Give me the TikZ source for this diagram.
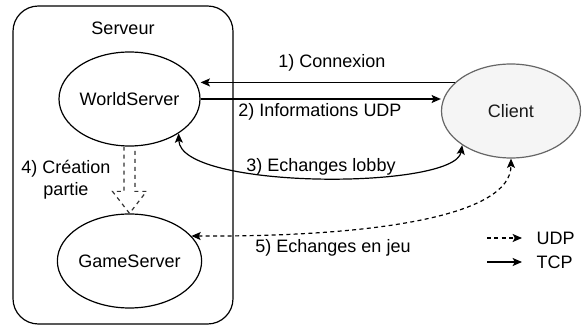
\documentclass[tikz,border=0pt]{standalone}
\usepackage{fontspec}
\setmainfont{Liberation Sans}
\definecolor{SRVfill}{HTML}{F5F5F5}
\definecolor{SRVedge}{HTML}{666666}
\definecolor{SRVtext}{HTML}{1A1A1A}
\usetikzlibrary{arrows.meta, calc, positioning, shapes.geometric}

\begin{document}
\begin{tikzpicture}[x=0.75pt, y=-0.75pt,
   every node/.style={font=\fontsize{13.5}{16.5}\selectfont},
   proc/.style={ellipse, draw, line width=0.9pt, minimum width=104.25pt,
      minimum height=70.5pt, inner sep=0pt},
   tcp/.style={-{Stealth[length=7pt, width=6pt, inset=1.5pt]}, line width=0.9pt},
   tcpboth/.style={{Stealth[length=7pt, width=6pt, inset=1.5pt]}-{Stealth[length=7pt, width=6pt, inset=1.5pt]}, line width=0.9pt},
   udp/.style={tcp, dash pattern=on 3pt off 2.5pt},
   udpboth/.style={tcpboth, dash pattern=on 3pt off 2.5pt}]
   \useasboundingbox (0,0) rectangle (582,331);
   % Server frame
   \draw[rounded corners=19pt, line width=0.9pt] (13,6) rectangle (233,324);
   \node (srv) at (123,28) {Serveur};
   % Processes
   \node[proc] (ws) at (129.5,99) {WorldServer};
   \node[proc] (gs) at (129.5,261) {GameServer};
   \node[proc, fill=SRVfill, draw=SRVedge, text=SRVtext] (client) at (511,111) {Client};
   % 1) and 2): TCP handshake
   \draw[tcp] (client.153) -- (client.153 -| ws.east);
   \node (lbl1) at (332,63) {1) Connexion};
   \draw[tcp] (ws.east) -- (ws.east -| client.west);
   \node (lbl2) at (320,112) {2) Informations UDP};
   % 3) lobby, both ways
   \draw[tcpboth] (ws.-35) .. controls (180,190) and (455,190) .. (client.-145);
   \node (lbl3) at (321,167) {3) Echanges lobby};
   % 4) hollow dashed arrow down to the game server
   \draw[dashed, line width=0.9pt, black!80]
      ($(ws.south)+(-5.5,0)$) -- ($(gs.north)+(-5.5,-22)$) -- ($(gs.north)+(-17,-22)$)
      -- (gs.north) -- ($(gs.north)+(17,-22)$) -- ($(gs.north)+(5.5,-22)$)
      -- ($(ws.south)+(5.5,0)$);
   \node[align=center] (lbl4) at (66,180) {4) Création\\partie};
   % 5) in-game traffic over UDP
   \draw[udpboth] (gs.22) .. controls (380,237) and (511,215) .. (client.south);
   \node (lbl5) at (333,248) {5) Echanges en jeu};
   % Legend
   \node[anchor=west] (udplbl) at (532,238) {UDP};
   \node[anchor=west] (tcplbl) at (532,262) {TCP};
   \coordinate (udpfrom) at (487,238);
   \coordinate (tcpfrom) at (487,262);
   \draw[udp, shorten >=7.5pt] (udpfrom) -- (udplbl.west);
   \draw[tcp, shorten >=7.5pt] (tcpfrom) -- (tcplbl.west);
\end{tikzpicture}
\end{document}
